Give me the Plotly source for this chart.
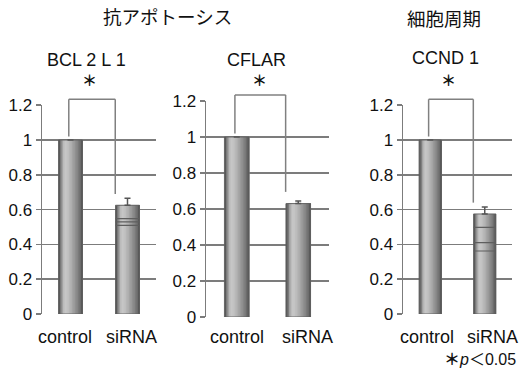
import plotly.graph_objects as go

# ---- data ----
panels = ["BCL 2 L 1", "CFLAR", "CCND 1"]
groups = ["抗アポトーシス", "細胞周期"]
categories = ["control", "siRNA"]
means = [[1.0, 0.625], [1.0, 0.63], [1.0, 0.575]]
err_up = [[0.0, 0.04], [0.0, 0.015], [0.0, 0.04]]
replicates = [[0.548, 0.530, 0.509], [], [0.498, 0.410, 0.362]]
yticks = [0, 0.2, 0.4, 0.6, 0.8, 1.0, 1.2]
footnote = "<b>＊</b><i>p</i>＜0.05"

# ---- layout geometry (pixels) ----
W, H = 520, 370
xdom_px = [(42, 156), (206, 329), (403, 512)]
ydom_px = [(314, 105.2), (317, 101), (314, 105.2)]
bar_w = [0.42, 0.40, 0.41]
cat_label_shift = [(-6, 4), (0, 9), (-3, 8)]
ymax = 1.2

# cylinder-like gradient (left -> right)
grad = ["#5a5a5a", "#7a7a7a", "#a2a2a2", "#bcbcbc", "#c6c6c6", "#c4c4c4",
        "#bebebe", "#b6b6b6", "#aeaeae", "#a4a4a4", "#9a9a9a", "#909090",
        "#868686", "#7a7a7a", "#6c6c6c", "#5a5a5a"]
N = len(grad)

FONT = "Liberation Sans, Arial, Noto Sans CJK JP, sans-serif"
CJK = "Noto Sans CJK JP"
GRID = "#7c7c7c"

fig = go.Figure()
layout = dict(width=W, height=H,
              margin=dict(l=0, r=0, t=0, b=0, pad=0, autoexpand=False),
              paper_bgcolor="white", plot_bgcolor="white",
              barmode="overlay", showlegend=False,
              font=dict(family=FONT, size=16, color="#111"))
shapes, annotations = [], []

for p in range(3):
    xa = "x" if p == 0 else f"x{p+1}"
    ya = "y" if p == 0 else f"y{p+1}"
    w = bar_w[p]
    # overlapping stripes: each one runs to the right edge, later ones on top
    for i, c in enumerate(grad):
        fig.add_trace(go.Bar(x=categories, y=means[p], width=(N - i) * w / N,
                             offset=-w / 2 + i * w / N,
                             marker=dict(color=c, line=dict(width=0)),
                             xaxis=xa, yaxis=ya, hoverinfo="skip"))
    fig.add_trace(go.Bar(x=categories, y=means[p], width=w, offset=-w / 2,
                         marker=dict(color="rgba(0,0,0,0)",
                                     line=dict(color="#5e5e5e", width=0.9)),
                         error_y=dict(type="data", symmetric=False,
                                      array=err_up[p], arrayminus=[0, 0],
                                      color="#555", thickness=1.5, width=3),
                         xaxis=xa, yaxis=ya))
    if replicates[p]:
        px_per_unit = (xdom_px[p][1] - xdom_px[p][0]) / 2.0
        fig.add_trace(go.Scatter(x=[categories[1]] * len(replicates[p]),
                                 y=replicates[p], mode="markers",
                                 marker=dict(symbol="line-ew",
                                             size=w * px_per_unit / 1.4,
                                             line=dict(color="#5e5e5e", width=1.2)),
                                 xaxis=xa, yaxis=ya))

    x0, x1 = xdom_px[p]
    yb, yt = ydom_px[p]
    axk = "xaxis" if p == 0 else f"xaxis{p+1}"
    ayk = "yaxis" if p == 0 else f"yaxis{p+1}"
    layout[axk] = dict(domain=[x0 / W, x1 / W], range=[-0.5, 1.5],
                       anchor=ya, showgrid=False, zeroline=False,
                       showline=False, ticks="", showticklabels=False,
                       automargin=False, fixedrange=True)
    layout[ayk] = dict(domain=[1 - yb / H, 1 - yt / H], range=[0, ymax],
                       anchor=xa, tickvals=yticks,
                       ticktext=[f"{v:g}" for v in yticks],
                       showgrid=True, gridcolor=GRID, gridwidth=1.5,
                       zeroline=False, showline=True, linecolor=GRID,
                       linewidth=1.5, ticks="outside", ticklen=5,
                       tickcolor=GRID, tickwidth=1.5, automargin=False,
                       tickfont=dict(family=FONT, size=17, color="#111"),
                       fixedrange=True)

    # category labels
    for c, sh in zip(categories, cat_label_shift[p]):
        annotations.append(dict(text=c, xref=xa, yref="paper", x=c,
                                y=1 - 337 / H, xshift=sh, showarrow=False,
                                xanchor="center", yanchor="middle",
                                font=dict(family=FONT, size=18, color="#111")))

    # significance bracket
    yd = f"{ya} domain"
    top = 1.234 / ymax
    left_x = 0 - 0.03
    right_x = 1 - w / 2 - 0.005
    left_end = (means[p][0] + err_up[p][0] + 0.02) / ymax
    right_end = (means[p][1] + 0.065) / ymax
    bstyle = dict(color="#808080", width=1.5)
    shapes.append(dict(type="line", xref=xa, yref=yd, x0=left_x, x1=right_x,
                       y0=top, y1=top, line=bstyle, layer="above"))
    shapes.append(dict(type="line", xref=xa, yref=yd, x0=left_x, x1=left_x,
                       y0=top, y1=left_end, line=bstyle, layer="above"))
    shapes.append(dict(type="line", xref=xa, yref=yd, x0=right_x, x1=right_x,
                       y0=top, y1=right_end, line=bstyle, layer="above"))

# gene labels and asterisks
label_x = [86, 256, 445]
label_y = [60, 60, 58]
for p in range(3):
    annotations.append(dict(text=panels[p], xref="paper", yref="paper",
                            x=label_x[p] / W, y=1 - label_y[p] / H,
                            showarrow=False, xanchor="center", yanchor="middle",
                            font=dict(family=FONT, size=18, color="#111")))
    annotations.append(dict(text="<b>＊</b>", xref="paper", yref="paper",
                            x=(label_x[p] + 3) / W, y=1 - 79 / H, showarrow=False,
                            xanchor="center", yanchor="middle",
                            font=dict(family=CJK, size=15, color="#111")))

group_pos = [(167, 16), (444, 18)]
for g, (gx, gy) in zip(groups, group_pos):
    annotations.append(dict(text=g, xref="paper", yref="paper", x=gx / W,
                            y=1 - gy / H, showarrow=False, xanchor="center",
                            yanchor="middle",
                            font=dict(family=CJK, size=18.5, color="#111")))

annotations.append(dict(text=footnote, xref="paper", yref="paper",
                        x=518 / W, y=1 - 359 / H, showarrow=False,
                        xanchor="right", yanchor="middle",
                        font=dict(family=FONT, size=16, color="#111")))

layout["shapes"] = shapes
layout["annotations"] = annotations
fig.update_layout(**layout)
fig.write_html("out.html", config={"displayModeBar": False, "staticPlot": True},
               post_script="document.body.style.margin='0';document.body.style.overflow='hidden';")
